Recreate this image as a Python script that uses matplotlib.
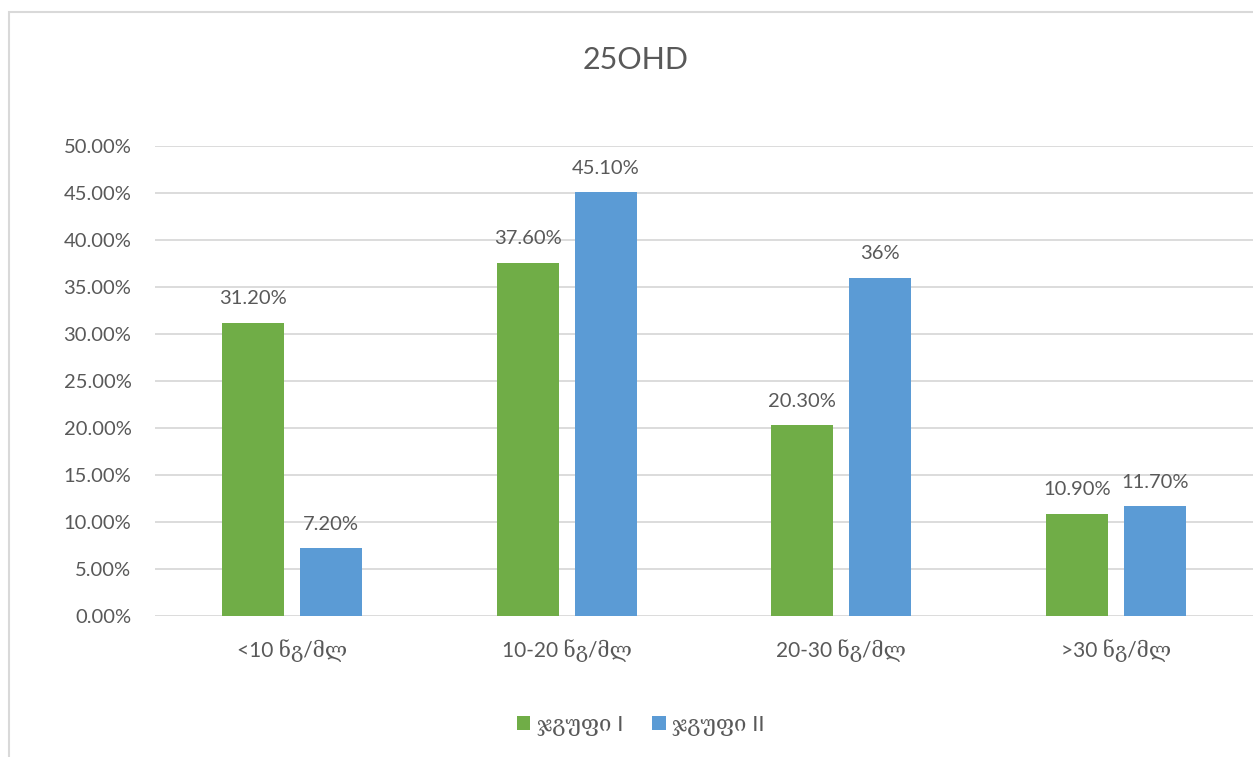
import matplotlib
matplotlib.use("Agg")
import matplotlib.pyplot as plt
from matplotlib.patches import Rectangle
import numpy as np

categories = ["<10 ნგ/მლ", "10-20 ნგ/მლ", "20-30 ნგ/მლ", ">30 ნგ/მლ"]
group1 = [31.2, 37.6, 20.3, 10.9]
group2 = [7.2, 45.1, 36.0, 11.7]
group1_labels = ["31.20%", "37.60%", "20.30%", "10.90%"]
group2_labels = ["7.20%", "45.10%", "36%", "11.70%"]
series_names = ["ჯგუფი I", "ჯგუფი II"]
yticks = [0, 5, 10, 15, 20, 25, 30, 35, 40, 45, 50]
ytick_labels = [f"{v:.2f}%" for v in yticks]
title = "25OHD"

GREEN = "#70AD47"
BLUE = "#5B9BD5"
TEXT = "#595959"
GRID = "#D9D9D9"
SANS = ["Lato", "DejaVu Sans"]
GEO = ["Lato", "DejaVu Serif", "DejaVu Sans"]

fig = plt.figure(figsize=(12.53, 7.57), dpi=100)
W, H = 1253, 757

# outer chart frame
fig.patches.append(Rectangle((9 / W, -0.05), 1.2, 1 - 12 / H + 0.05,
                             transform=fig.transFigure, fill=False,
                             edgecolor=GRID, linewidth=1.5))

ax = fig.add_axes([155 / W, 1 - 616 / H, 1 - 155 / W, (616 - 146) / H])

x = np.arange(len(categories))
bw = 0.225
off = 0.142
b1 = ax.bar(x - off, group1, bw, color=GREEN, label=series_names[0], zorder=3)
b2 = ax.bar(x + off, group2, bw, color=BLUE, label=series_names[1], zorder=3)

for bars, labels in ((b1, group1_labels), (b2, group2_labels)):
    for bar, lab in zip(bars, labels):
        ax.annotate(lab, (bar.get_x() + bar.get_width() / 2, bar.get_height()),
                    xytext=(0, 11), textcoords="offset points",
                    ha="center", va="bottom", fontsize=14.5, color=TEXT,
                    family=SANS)

ax.set_xlim(-0.5, len(categories) - 0.5)
ax.set_ylim(0, 50)
ax.set_yticks(yticks)
ax.set_yticklabels(ytick_labels, family=SANS, fontsize=14.5, color=TEXT)
ax.set_xticks(x)
ax.set_xticklabels(categories, family=GEO, fontsize=15, color=TEXT)
ax.tick_params(axis="both", length=0)
ax.tick_params(axis="y", pad=17)
ax.tick_params(axis="x", pad=17)
ax.grid(axis="y", color=GRID, linewidth=1.3, zorder=0)
ax.set_axisbelow(True)
for s in ax.spines.values():
    s.set_visible(False)

fig.text(636 / W, 1 - 60 / H, title, ha="center", va="center",
         fontsize=22, color=TEXT, family=["Lato", "DejaVu Sans"])

leg = fig.legend(handles=[b1, b2], labels=series_names, loc="center",
                 bbox_to_anchor=(641 / W, 1 - 725 / H), ncol=2, frameon=False,
                 prop={"family": GEO, "size": 16}, handlelength=0.6,
                 handleheight=0.6, handletextpad=0.3, columnspacing=1.3)
for t in leg.get_texts():
    t.set_color(TEXT)

fig.savefig("out.png", dpi=100, facecolor="white")
